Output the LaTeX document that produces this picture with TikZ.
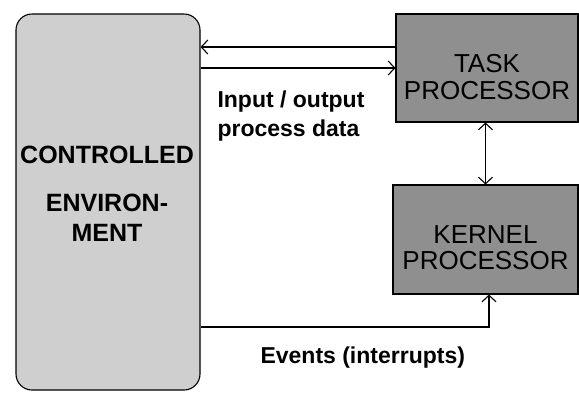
\documentclass[tikz,border=0pt]{standalone}
\usepackage{fontspec}
\setmainfont{Liberation Sans}
\usetikzlibrary{arrows.meta}

\definecolor{envgray}{gray}{0.81}
\definecolor{procgray}{gray}{0.56}

\tikzset{
  envbox/.style={draw, fill=envgray, rounded corners=16pt, inner sep=0pt},
  procbox/.style={draw, fill=procgray, inner sep=0pt},
  proctext/.style={align=center, inner sep=0pt, font=\fontsize{26}{27}\selectfont},
  flowlabel/.style={align=left, inner sep=0pt, font=\fontsize{23}{29}\selectfont\bfseries},
}

\begin{document}
\begin{tikzpicture}[x=1pt,y=-1pt,line width=1.1pt,
    >={Straight Barb[length=6.5pt,width=14pt]}]
  \useasboundingbox (0,0) rectangle (579,392);
  % boxes
  \node[envbox, minimum width=184pt, minimum height=376pt] (env) at (108,202) {};
  \node[align=center, inner sep=0pt, font=\fontsize{25}{30}\selectfont\bfseries]
    (envtext) at (107,194) {CONTROLLED\\[18pt]ENVIRON-\\MENT};
  \node[procbox, minimum width=182pt, minimum height=108pt] (task) at (487,68) {};
  \node[proctext] (tasktext) at ([yshift=-9pt]task.center) {TASK\\PROCESSOR};
  \node[procbox, minimum width=185pt, minimum height=109pt] (kernel) at (485.5,239.5) {};
  \node[proctext, font=\fontsize{26}{26}\selectfont] (kerneltext)
    at ([yshift=-8pt]kernel.center) {KERNEL\\PROCESSOR};
  % connectors
  \draw[->] ([yshift=21pt]task.west) -- ([yshift=21pt]task.west -| env.east);
  \draw[->] (task.west -| env.east) -- (task.west);
  \draw[<->] (kernel.north) -- (kernel.north |- task.south);
  \draw[->] ([yshift=-125pt]env.east) -| ([xshift=3.5pt]kernel.south);
  % labels
  \node[flowlabel, anchor=north west] (iolabel) at (217,90) {Input / output\\process data};
  \node[flowlabel, anchor=base west] (evlabel) at (260,363) {Events (interrupts)};
\end{tikzpicture}
\end{document}
